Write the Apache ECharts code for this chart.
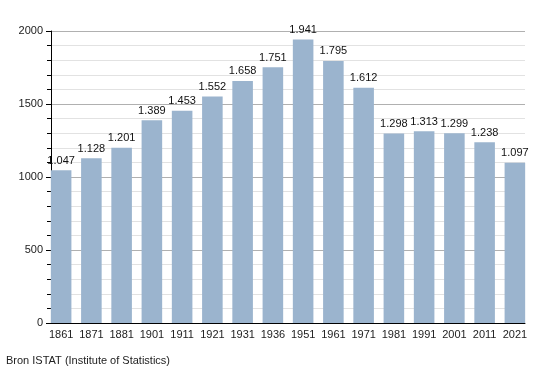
<!DOCTYPE html>
<html><head><meta charset="utf-8">
<script src="https://cdn.jsdelivr.net/npm/echarts@6/dist/echarts.min.js"></script>
<style>html,body{margin:0;padding:0;background:#fff}#c{width:555px;height:373px}</style>
</head><body><div id="c"></div>
<script>
const categories = ['1861','1871','1881','1901','1911','1921','1931','1936','1951','1961','1971','1981','1991','2001','2011','2021'];
const values = [1047,1128,1201,1389,1453,1552,1658,1751,1941,1795,1612,1298,1313,1299,1238,1097];
const yTicks = [0,500,1000,1500,2000];
const sourceText = 'Bron ISTAT (Institute of Statistics)';

const chart = echarts.init(document.getElementById('c'));
const font = 'Liberation Sans, Arial, sans-serif';
const yMin = yTicks[0], yMax = yTicks[yTicks.length-1];
chart.setOption({
  animation: false,
  grid: [
    {left: 51, right: 30, top: 31, bottom: 50},
    {left: 46, right: 25, top: 31, bottom: 50}
  ],
  graphic: [{type: 'text', left: 6, top: 355, style: {text: sourceText, font: '11px Liberation Sans, Arial, sans-serif', fill: '#222'}}],
  xAxis: [{
    gridIndex: 0, type: 'category', data: categories,
    axisLine: {lineStyle: {color: '#000', width: 1}},
    axisTick: {show: false}, axisLabel: {show: false}
  }, {
    gridIndex: 1, type: 'category', data: categories,
    axisLine: {show: false},
    axisTick: {show: false},
    axisLabel: {color: '#222', fontFamily: font, fontSize: 11, margin: 6, interval: 0}
  }],
  yAxis: [{
    gridIndex: 0, type: 'value', min: yMin, max: yMax, interval: 500,
    axisLine: {show: true, lineStyle: {color: '#000'}},
    axisTick: {show: true, length: 5, lineStyle: {color: '#000'}},
    minorTick: {show: true, splitNumber: 5, length: 4, lineStyle: {color: '#000'}},
    axisLabel: {color: '#222', fontFamily: font, fontSize: 11, margin: 8, formatter: v => String(v)},
    splitLine: {lineStyle: {color: '#b0b0b0', width: 1}},
    minorSplitLine: {show: true, lineStyle: {color: '#e2e2e2', width: 1}}
  }, {
    gridIndex: 1, type: 'value', min: yMin, max: yMax, show: false
  }],
  series: [{
    type: 'bar', data: values, xAxisIndex: 1, yAxisIndex: 1, barCategoryGap: '32%',
    itemStyle: {color: '#9bb4ce'},
    label: {show: true, position: 'top', distance: 4, color: '#111', fontFamily: font, fontSize: 11,
      formatter: p => (p.value/1000).toFixed(3)}
  }]
});
</script></body></html>
